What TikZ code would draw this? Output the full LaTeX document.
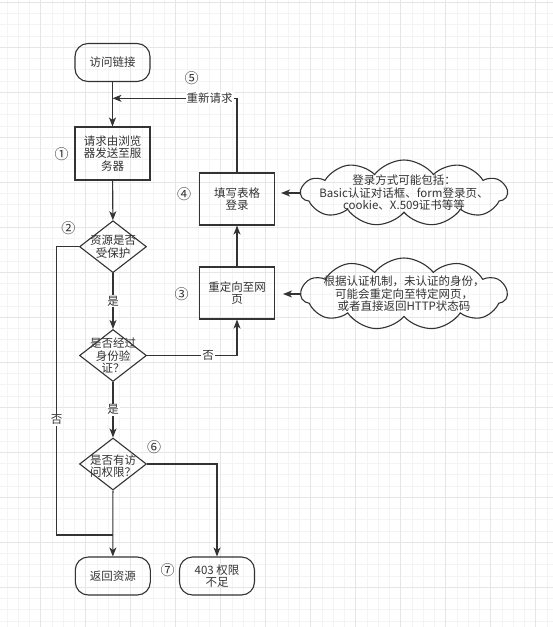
\documentclass[tikz,border=0pt]{standalone}
\usepackage{fontspec}
\setmainfont{Noto Sans CJK SC}
\usetikzlibrary{arrows.meta, shapes.geometric, shapes.symbols}

\definecolor{gridminor}{HTML}{F4F4F4}
\definecolor{gridmajor}{HTML}{E6E6E6}
\definecolor{ink}{HTML}{333333}

\begin{document}
\begin{tikzpicture}[x=1pt, y=-1pt,
    every node/.style={text=ink, font=\fontsize{11.5}{12.5}\selectfont},
    flowbox/.style={draw=ink, line width=1.1pt, minimum width=75pt, minimum height=53pt, inner sep=0pt, align=center},
    termbox/.style={flowbox, minimum height=38pt, rounded corners=13pt},
    decision/.style={draw=ink, line width=1.1pt, diamond, minimum width=67pt, minimum height=52pt, inner sep=0pt},
    note/.style={draw=ink, line width=1.1pt, cloud, cloud puffs=11, cloud puff arc=105, aspect=3.2, minimum width=206pt, inner sep=0pt},
    flowline/.style={draw=ink, line width=1.1pt},
    flowarrow/.style={flowline, -{Stealth[length=9pt, width=7pt, inset=2.5pt]}},
    tag/.style={fill=white, inner sep=1pt},
    stepno/.style={font=\fontsize{14}{14}\selectfont}
  ]
    % Page and background grid
    \useasboundingbox (0,0) rectangle (553,627);
    \fill[white] (0,0) rectangle (553,627);
    \foreach \k in {0,...,48}
      \draw[gridminor, line width=0.8pt] (6.95+11.25*\k, 0) -- (6.95+11.25*\k, 627);
    \foreach \k in {0,...,55}
      \draw[gridminor, line width=0.8pt] (0, 2.3+11.25*\k) -- (553, 2.3+11.25*\k);
    \foreach \k in {0,...,11}
      \draw[gridmajor, line width=0.8pt] (40.7+45*\k, 0) -- (40.7+45*\k, 627);
    \foreach \k in {0,...,13}
      \draw[gridmajor, line width=0.8pt] (0, 2.3+45*\k) -- (553, 2.3+45*\k);

    % Main column
    \node[termbox] (link) at (112.5, 62.5) {访问链接};
    \node[flowbox] (req) at (112.5, 153.5) {请求由浏览\\器发送至服\\务器};
    \node[decision] (prot) at (113, 246.7) {};
    \node (prot-text) at (prot) [align=center] {资源是否\\受保护};
    \node[decision] (auth) at (113, 355.5) {};
    \node (auth-text) at (auth) [align=center] {是否经过\\身份验\\证？};
    \node[decision] (perm) at (113, 464) {};
    \node (perm-text) at (113, 466) [align=center] {是否有访\\问权限？};
    \node[termbox] (ret) at (112.8, 576) {返回资源};
    \node[termbox] (deny) at (217, 576) {403 权限\\不足};

    % Login column
    \node[flowbox, minimum height=52pt] (redir) at (237, 293) {重定向至网\\页};
    \node[flowbox, minimum height=52pt] (form) at (237, 199) {填写表格\\登录};

    % Notes
    \node[note, minimum height=66pt] (noteA) at (404, 193) {};
    \node (noteA-text) at (noteA) [align=center] {登录方式可能包括：\\Basic认证对话框、form登录页、\\cookie、X.509证书等等};
    \node[note, minimum height=72pt] (noteB) at (404, 294) {};
    \node (noteB-text) at (noteB) [align=center] {根据认证机制，未认证的身份，\\可能会重定向至特定网页，\\或者直接返回HTTP状态码};

    % Step numbers
    \node[stepno] (n1) at (61.7, 154) {①};
    \node[stepno] (n2) at (68.3, 228.3) {②};
    \node[stepno] (n3) at (181.7, 294) {③};
    \node[stepno] (n4) at (184, 194) {④};
    \node[stepno] (n5) at (191.7, 78.3) {⑤};
    \node[stepno] (n6) at (154, 446.7) {⑥};
    \node[stepno] (n7) at (167.7, 570) {⑦};

    % Connectors
    \coordinate (rejoin) at (112.5, 98.3);
    \coordinate (leftturn) at (56.7, 535);
    \coordinate (merge) at (112.8, 535);
    \draw[flowarrow] (link) -- (req);
    \draw[flowarrow] (req) -- (prot);
    \draw[flowarrow] (prot) -- (auth) node[tag, pos=0.5] (yes1) {是};
    \draw[flowarrow] (auth) -- (perm) node[tag, pos=0.5] (yes2) {是};
    \draw[flowarrow] (auth.east) -| (redir.south) node[tag, pos=0.34] (no1) {否};
    \draw[flowarrow] (redir) -- (form);
    \draw[flowarrow] (form.north) |- (rejoin) node[tag, pos=0.61] (retry) {重新请求};
    \draw[flowline] (prot.west) -| (leftturn) node[tag, pos=0.8] (no2) {否} -- (merge);
    \draw[flowarrow] (perm) -- (ret);
    \draw[flowarrow] (perm.east) -| (deny.north);
    \draw[flowarrow, shorten >=6pt] (noteA.west) -- (noteA.west -| form.east);
    \draw[flowarrow, shorten >=8pt] (noteB.west) -- (noteB.west -| redir.east);
\end{tikzpicture}
\end{document}
